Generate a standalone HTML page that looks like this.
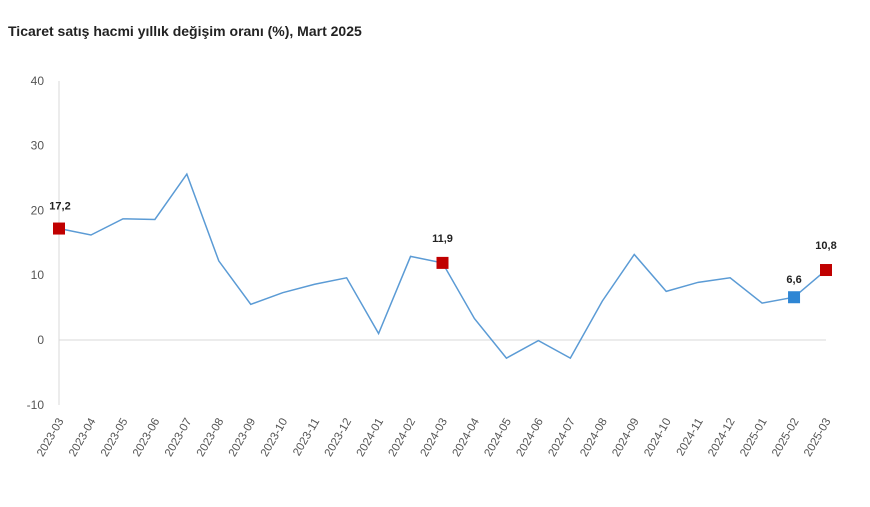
<!DOCTYPE html>
<html><head><meta charset="utf-8"><style>
body{margin:0;background:#fff;font-family:"Liberation Sans",sans-serif}
</style></head><body>
<svg id="chart" width="870" height="502">
<text x="8" y="36" font-size="14" font-weight="bold" fill="#222">Ticaret satış hacmi yıllık değişim oranı (%), Mart 2025</text>
</svg>
<script>
const categories=["2023-03","2023-04","2023-05","2023-06","2023-07","2023-08","2023-09","2023-10","2023-11","2023-12","2024-01","2024-02","2024-03","2024-04","2024-05","2024-06","2024-07","2024-08","2024-09","2024-10","2024-11","2024-12","2025-01","2025-02","2025-03"];
const values=[17.2,16.2,18.7,18.6,25.6,12.2,5.5,7.3,8.6,9.6,1.0,12.9,11.9,3.3,-2.8,-0.1,-2.8,6.0,13.2,7.5,8.9,9.6,5.7,6.6,10.8];
const yTicks=[40,30,20,10,0,-10];
const markerIdx=[0,12,23,24];
const markerColors=["#c00000","#c00000","#2e86d4","#c00000"];
const markerLabels=["17,2","11,9","6,6","10,8"];
const svg=document.getElementById('chart');
const NS='http://www.w3.org/2000/svg';
const x=i=>59+i*(826-59)/(categories.length-1);
const y=v=>340-v*6.48;
function mk(t,a){const e=document.createElementNS(NS,t);for(const k in a)e.setAttribute(k,a[k]);svg.appendChild(e);return e;}
const ax=mk('line',{x1:59,x2:59,y1:81,y2:405,stroke:'#d9d9d9'});


const z=mk('line',{x1:59,x2:826,y1:y(0),y2:y(0),stroke:'#d9d9d9'});


yTicks.forEach(v=>{const t=mk('text',{x:44,y:y(v)+4,'font-size':12,fill:'#555','text-anchor':'end'});t.textContent=v;

});
categories.forEach((c,i)=>{const t=mk('text',{x:0,y:0,'font-size':11.5,fill:'#555','text-anchor':'end',transform:`translate(${x(i)+5},${y(-10)+16}) rotate(-60)`});t.textContent=c;

});
const p=mk('polyline',{points:values.map((v,i)=>x(i)+','+y(v)).join(' '),fill:'none',stroke:'#5b9bd5','stroke-width':1.5});


markerIdx.forEach((i,k)=>{const r=mk('rect',{x:x(i)-6,y:y(values[i])-6,width:12,height:12,fill:markerColors[k]});


const dy=(k==2)?-14:(k==0?-19:-21);
const t=mk('text',{x:x(i)+(k==0?1:0),y:y(values[i])+dy,'font-size':11,'font-weight':'bold',fill:'#222','text-anchor':'middle'});t.textContent=markerLabels[k];

});
</script>
</body></html>
